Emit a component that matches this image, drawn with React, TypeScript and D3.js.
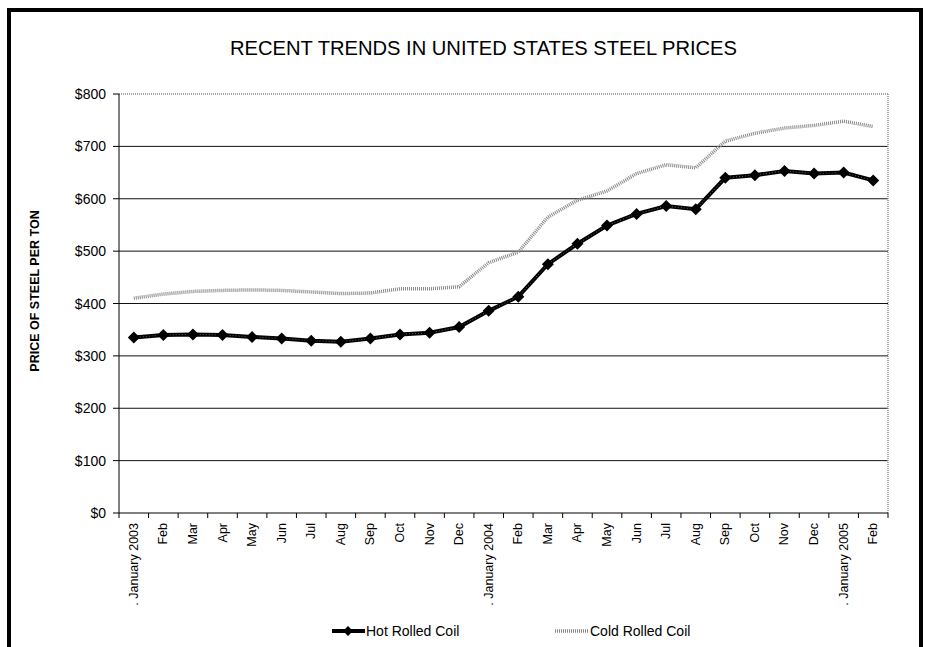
import React from "react";
import * as d3 from "d3";

const months = [
  ". January 2003", "Feb", "Mar", "Apr", "May", "Jun", "Jul", "Aug", "Sep", "Oct", "Nov", "Dec",
  ". January 2004", "Feb", "Mar", "Apr", "May", "Jun", "Jul", "Aug", "Sep", "Oct", "Nov", "Dec",
  ". January 2005", "Feb",
];
const hotRolled = [335, 340, 341, 340, 336, 333, 329, 327, 333, 341, 344, 355, 386, 413, 475, 514, 549, 571, 586, 580, 640, 645, 653, 648, 650, 635];
const coldRolled = [410, 418, 423, 425, 426, 425, 422, 419, 420, 428, 428, 432, 478, 498, 565, 597, 615, 648, 665, 659, 710, 725, 735, 740, 748, 738];
const yTicks = [0, 100, 200, 300, 400, 500, 600, 700, 800];

const W = 925, H = 647;
const L = 119, R = 888, T = 94, B = 513;
const FONT = "Arial, 'Liberation Sans', Helvetica, sans-serif";

export default function App() {
  const idx = months.map((_, i) => i);
  const x = d3.scaleBand<number>().domain(idx).range([L, R]);
  const y = d3.scaleLinear().domain([0, 800]).range([B, T]);
  const cx = (i: number) => (x(i) as number) + x.bandwidth() / 2;
  const line = d3.line<number>().x((_, i) => cx(i)).y((d) => y(d));
  const diamond = (px: number, py: number, r = 6) =>
    `M${px},${py - r}L${px + r},${py}L${px},${py + r}L${px - r},${py}Z`;

  return (
    <svg width={W} height={H} style={{ position: "absolute", left: 0, top: 0, background: "#fff" }} fontFamily={FONT}>
      <rect x={0} y={0} width={W} height={H} fill="#fff" />
      {/* outer frame */}
      <rect x={9} y={10} width={912} height={H + 20} fill="none" stroke="#000" strokeWidth={4} />
      {/* title */}
      <text x={483.5} y={55} textAnchor="middle" fontSize={19.5} textLength={507} lengthAdjust="spacingAndGlyphs" fill="#000">
        RECENT TRENDS IN UNITED STATES STEEL PRICES
      </text>
      {/* gridlines */}
      {yTicks.filter((t) => t > 0 && t < 800).map((t) => (
        <line key={t} x1={L} x2={R} y1={y(t)} y2={y(t)} stroke="#111" strokeWidth={1} />
      ))}
      {/* plot border top / right (dotted gray) */}
      <line x1={L} x2={R} y1={T} y2={T} stroke="#888" strokeWidth={1.5} strokeDasharray="1 1" />
      <line x1={R} x2={R} y1={T} y2={B} stroke="#888" strokeWidth={1.5} strokeDasharray="1 1" />
      {/* axes */}
      <line x1={L} x2={L} y1={T} y2={B} stroke="#000" strokeWidth={1} />
      <line x1={L} x2={R} y1={B} y2={B} stroke="#000" strokeWidth={1} />
      {yTicks.map((t) => (
        <g key={t}>
          <line x1={L - 6} x2={L} y1={y(t)} y2={y(t)} stroke="#000" />
          <text x={106} y={y(t) + 5} textAnchor="end" fontSize={14} fill="#000">
            {`$${t}`}
          </text>
        </g>
      ))}
      {idx.map((i) => (
        <line key={i} x1={x(i) as number} x2={x(i) as number} y1={B} y2={B + 5} stroke="#000" />
      ))}
      <line x1={R} x2={R} y1={B} y2={B + 5} stroke="#000" />
      {months.map((m, i) => (
        <text key={i} transform={`translate(${cx(i) + 4},${B + 10}) rotate(-90)`} textAnchor="end" fontSize={12.5} fill="#000">
          {m}
        </text>
      ))}
      {/* y axis title */}
      <text transform={`translate(39,291) rotate(-90)`} textAnchor="middle" fontSize={12.5} fontWeight="bold" fill="#000">
        PRICE OF STEEL PER TON
      </text>
      {/* cold rolled */}
      <path d={line(coldRolled) || ""} fill="none" stroke="#888" strokeWidth={3.5} strokeDasharray="1 1" />
      {/* hot rolled */}
      <path d={line(hotRolled) || ""} fill="none" stroke="#000" strokeWidth={4} />
      <path d={line(hotRolled) || ""} fill="none" stroke="#666" strokeWidth={1} strokeDasharray="1 2" />
      {hotRolled.map((v, i) => (
        <path key={i} d={diamond(cx(i), y(v))} fill="#000" />
      ))}
      {/* legend */}
      <line x1={332} x2={365} y1={631} y2={631} stroke="#000" strokeWidth={4} />
      <path d={diamond(348, 631, 5)} fill="#000" />
      <text x={366} y={636} fontSize={14} fill="#000">Hot Rolled Coil</text>
      <line x1={555} x2={588} y1={631} y2={631} stroke="#888" strokeWidth={3.5} strokeDasharray="1 1" />
      <text x={590} y={636} fontSize={14} fill="#000">Cold Rolled Coil</text>
    </svg>
  );
}
